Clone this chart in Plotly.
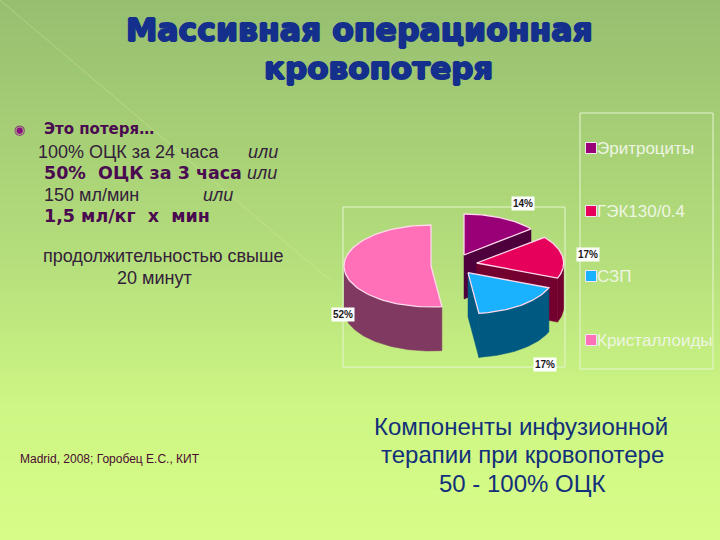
import numpy as np
import plotly.graph_objects as go

categories = ["Эритроциты", "ГЭК130/0.4", "СЗП", "Кристаллоиды"]
shares = [14, 17, 17, 52]
slice_labels = ["14%", "17%", "17%", "52%"]

top_colors = ["#990077", "#E6005C", "#1AB2FF", "#FF70B8"]
side_colors = ["#4D003C", "#73002E", "#005980", "#803A62"]
centers = [(464, 255), (476.7, 263), (468, 272.7), (431, 266)]
label_pos = [(511, 203), (576, 254), (533, 364), (331, 314)]
legend_y = [148, 211, 276, 340]

RX, RY, DEPTH = 87, 41, 44
W, H = 720, 540

fig = go.Figure()

# slide background
rows = np.linspace(0, 1, 28)
stops = [[0, "#96BE70"], [0.5, "#B6E07C"], [0.75, "#CDF684"], [1, "#D8FC88"]]
fig.add_trace(go.Heatmap(x=[0, W], y=np.linspace(0, H, 28), z=np.column_stack([rows, rows]),
                         colorscale=stops, showscale=False, hoverinfo="skip", zsmooth="best"))

def pt(c, a, depth=0):
    return c[0] + RX * np.sin(a), c[1] - RY * np.cos(a) + depth

def poly(xs, ys, fill, line=None):
    fig.add_trace(go.Scatter(x=xs, y=ys, mode="lines", fill="toself", fillcolor=fill,
                             line=dict(color=line or fill, width=1.3 if line else 0.5),
                             hoverinfo="skip", showlegend=False))

edges = np.cumsum([0] + shares) / sum(shares) * 2 * np.pi
for i, c in enumerate(centers):
    a0, a1 = edges[i], edges[i + 1]
    side, top = side_colors[i], top_colors[i]
    # cut face at end of the slice
    if i < 3:
        ex, ey = pt(c, a1)
        poly([c[0], ex, ex, c[0], c[0]], [c[1], ey, ey + DEPTH, c[1] + DEPTH, c[1]], side)
    # outer wall on the near half of the rim
    lo, hi = max(a0, np.pi / 2), min(a1, 3 * np.pi / 2)
    if hi > lo:
        t = np.linspace(lo, hi, 50)
        x1, y1 = pt(c, t)
        x2, y2 = pt(c, t[::-1], DEPTH)
        poly(np.r_[x1, x2, x1[0]], np.r_[y1, y2, y1[0]], side)
    # top face
    t = np.linspace(a0, a1, 80)
    x, y = pt(c, t)
    poly(np.r_[c[0], x, c[0]], np.r_[c[1], y, c[1]], top, "#FFD9EC")

# legend
fig.add_trace(go.Scatter(x=[591] * 4, y=legend_y, mode="markers",
                         marker=dict(symbol="square", size=11, color=top_colors, line=dict(color="#F2E6F0", width=1)),
                         hoverinfo="skip", showlegend=False))
fig.add_trace(go.Scatter(x=[597] * 4, y=[v + 2 for v in legend_y], mode="text", text=categories, textposition="middle right",
                         textfont=dict(family="Liberation Sans", size=17, color="#EEF5E2"),
                         hoverinfo="skip", showlegend=False))

frame = dict(type="rect", xref="x", yref="y", line=dict(color="#E6F5D2", width=1), fillcolor="rgba(0,0,0,0)")
shapes = [dict(frame, x0=343, y0=207, x1=565, y1=367), dict(frame, x0=580, y0=113, x1=713, y1=369),
          dict(type="line", xref="x", yref="y", x0=0, y0=0, x1=330, y1=280,
               line=dict(color="rgba(220,245,170,0.35)", width=1), layer="above")]

def note(x, y, text, size, color, family="Liberation Sans", anchor="left", bg=None, pad=0, **font):
    return dict(x=x, y=y, xref="x", yref="y", text=text, showarrow=False, xanchor=anchor, yanchor="middle",
                bgcolor=bg, borderpad=pad, font=dict(family=family, size=size, color=color, **font))

BOLD = "DejaVu Sans"
BLUE = "#14308C"
PUR = "#4A0A50"
TXT = "#33203A"
NAVY = "#12307A"
heavy = "1px 0 0 {0}, -1px 0 0 {0}, 0 1px 0 {0}, 0 -1px 0 {0}"
notes = [note(p[0], p[1], "<b>%s</b>" % s, 10, "#1A1A1A", bg="white", pad=1) for p, s in zip(label_pos, slice_labels)]
notes += [
    note(359, 30, "<b>Массивная операционная</b>", 31.5, BLUE, BOLD, "center", shadow=heavy.format(BLUE)),
    note(378, 68, "<b>кровопотеря</b>", 31, BLUE, BOLD, "center", shadow=heavy.format(BLUE)),
    note(19, 129, "◉", 13, "#8A1080", anchor="center"),
    note(43, 129, "<b>Это потеря…</b>", 15, PUR, BOLD),
    note(37, 152, "100% ОЦК за 24 часа", 18, TXT),
    note(263, 152, "<i>или</i>", 18, TXT, anchor="center"),
    note(43, 173, "<b>50%  ОЦК за 3 часа</b>", 17.5, PUR, BOLD),
    note(262, 173, "<i>или</i>", 18, TXT, anchor="center"),
    note(43, 195, "150 мл/мин", 18, TXT),
    note(218, 195, "<i>или</i>", 18, TXT, anchor="center"),
    note(43, 216, "<b>1,5 мл/кг  х  мин</b>", 17.5, PUR, BOLD),
    note(163, 256, "продолжительностью свыше", 18, TXT, anchor="center"),
    note(154, 278, "20 минут", 18, TXT, anchor="center"),
    note(19, 459, "Madrid, 2008; Горобец Е.С., КИТ", 12, "#4A0A30"),
    note(521, 426, "Компоненты инфузионной", 24, NAVY, anchor="center"),
    note(522, 454, "терапии при кровопотере", 24, NAVY, anchor="center"),
    note(522, 483, "50 - 100% ОЦК", 24, NAVY, anchor="center"),
]

fig.update_layout(width=W, height=H, margin=dict(l=0, r=0, t=0, b=0), showlegend=False,
                  paper_bgcolor="#B6E07C", plot_bgcolor="#B6E07C",
                  xaxis=dict(range=[0, W], visible=False, fixedrange=True),
                  yaxis=dict(range=[H, 0], visible=False, fixedrange=True),
                  shapes=shapes, annotations=notes)
fig.write_html("out.html", config=dict(displayModeBar=False),
               post_script="document.body.style.margin='0';document.body.style.overflow='hidden';")
